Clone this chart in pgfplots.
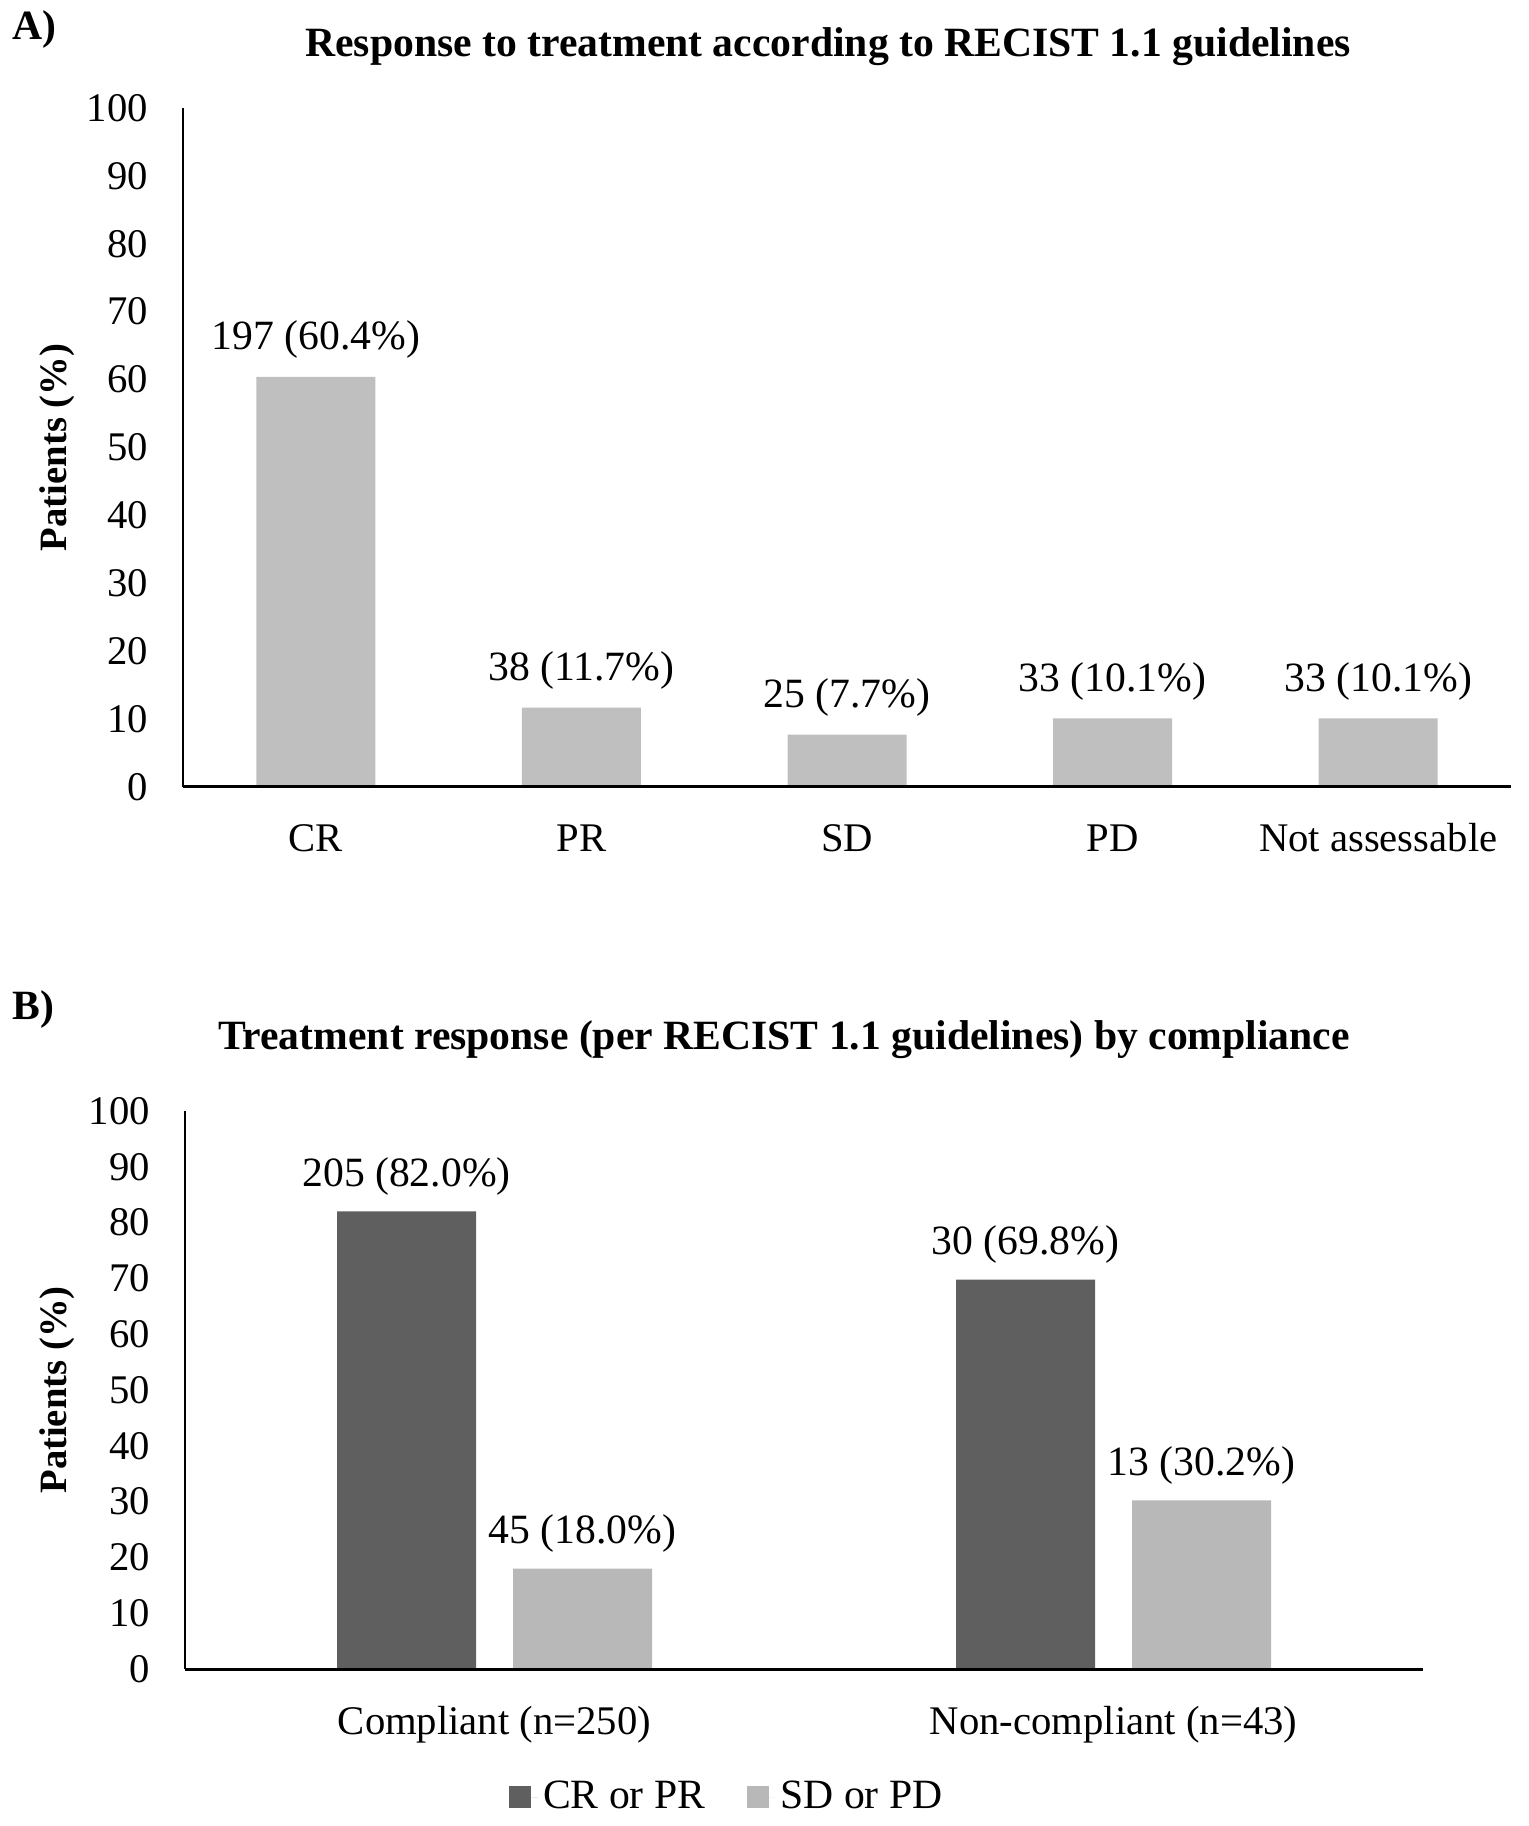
\documentclass[border=0pt]{standalone}
\usepackage{fontspec}
\setmainfont{Liberation Serif}
\usepackage{pgfplots}
\pgfplotsset{compat=1.18}
\definecolor{barA}{HTML}{BFBFBF}
\definecolor{darkB}{HTML}{5F5F5F}
\definecolor{lightB}{HTML}{B8B8B8}
\newcommand\fs{\fontsize{12.2}{14.6}\selectfont}
\newcommand\fl{\fontsize{12.5}{15}\selectfont}
\pgfplotsset{
  common/.style={
    scale only axis, anchor=south west,
    ymin=0, ymax=100,
    axis x line=bottom, axis y line=left,
    axis line style={-},
    x axis line style={line width=0.9pt},
    y axis line style={line width=0.45pt},
    ytick={0,10,...,100},
    major tick length=0pt,
    tick label style={font=\fs},
    /pgf/number format/assume math mode=true,
    yticklabel style={xshift=-7pt},
    xticklabel style={anchor=base, yshift=-19.5pt},
    ylabel={Patients (\%)},
    nodes near coords, point meta=explicit symbolic,
    nodes near coords style={anchor=base, font=\fl},
    axis on top, clip=false,
  }
}
\begin{document}
\begin{tikzpicture}
\path[use as bounding box] (0,0) rectangle (458.4pt,547.8pt);
\node[anchor=base west, inner sep=0, font=\bfseries\fontsize{12.5}{15}\selectfont] at (3.6pt,535.8pt) {A)};
\node[anchor=base, inner sep=0, font=\bfseries\fontsize{12.5}{15}\selectfont] at (248.4pt,530.7pt) {Response to treatment according to RECIST 1.1 guidelines};
\node[anchor=base west, inner sep=0, font=\bfseries\fontsize{12.5}{15}\selectfont] at (3.6pt,241.8pt) {B)};
\node[anchor=base, inner sep=0, font=\bfseries\fontsize{12.5}{15}\selectfont] at (235.2pt,232.8pt) {Treatment response (per RECIST 1.1 guidelines) by compliance};

\begin{axis}[common,
  at={(54.9pt,311.7pt)}, width=398.4pt, height=203.7pt,
  xmin=-0.5, xmax=4.5,
  xtick={0,...,4},
  xticklabels={CR,PR,SD,PD,Not assessable},
  ylabel style={at={(axis description cs:-0.0945,0.5)}, anchor=center, font=\bfseries\fontsize{11.6}{14}\selectfont},
  ybar, bar width=35.7pt,
  nodes near coords style={yshift=8.2pt},
]
\addplot[fill=barA, draw=none] coordinates {(0,60.4) [197 (60.4\%)] (1,11.7) [38 (11.7\%)] (2,7.7) [25 (7.7\%)] (3,10.1) [33 (10.1\%)] (4,10.1) [33 (10.1\%)]};
\end{axis}

\begin{axis}[common,
  at={(55.5pt,47.1pt)}, width=371.4pt, height=167.4pt,
  xmin=-0.5, xmax=1.5,
  xtick={0,1},
  xticklabels={{Compliant (n=250)},{Non-compliant (n=43)}},
  ylabel style={at={(axis description cs:-0.1032,0.5)}, anchor=center, font=\bfseries\fontsize{11.6}{14}\selectfont},
  ybar=11.1pt, bar width=41.7pt,
  nodes near coords style={yshift=7.4pt},
  legend style={at={(0.439,-0.2294)}, anchor=center, draw=none, legend columns=2, font=\fl,
    nodes={inner sep=1.5pt},
    /tikz/every even column/.append style={column sep=11pt}},
]
\addplot[fill=darkB, draw=none, legend image code/.code={\fill[darkB] (0pt,-3.3pt) rectangle (6.6pt,3.3pt); \path (0pt,0pt) -- (8.6pt,0pt);}] coordinates {(0,82.0) [205 (82.0\%)] (1,69.8) [30 (69.8\%)]};
\addplot[fill=lightB, draw=none, legend image code/.code={\fill[lightB] (0pt,-3.3pt) rectangle (6.6pt,3.3pt); \path (0pt,0pt) -- (8.6pt,0pt);}] coordinates {(0,18.0) [45 (18.0\%)] (1,30.2) [13 (30.2\%)]};
\legend{CR or PR, SD or PD}
\end{axis}
\end{tikzpicture}
\end{document}
